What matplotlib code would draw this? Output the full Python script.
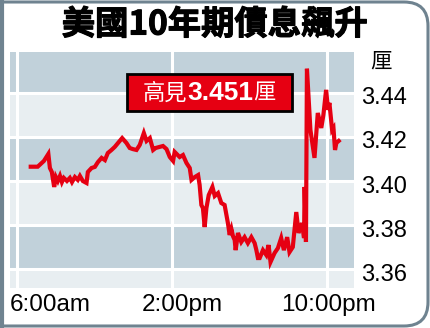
import numpy as np
import matplotlib
matplotlib.use('Agg')
import matplotlib.pyplot as plt
import matplotlib.patheffects as pe
from matplotlib.patches import FancyBboxPatch, Rectangle
from matplotlib.lines import Line2D
from matplotlib.offsetbox import TextArea, HPacker, AnnotationBbox
from matplotlib.transforms import IdentityTransform, ScaledTranslation

# hours of the day (6 = 6:00am) and 10-year yield (%)
hours = [6.71, 7.07, 7.39, 7.62, 7.70, 7.80, 7.92, 8.01, 8.11, 8.22, 8.32, 8.42, 8.58, 8.73,
         8.84, 8.99, 9.14, 9.25, 9.40, 9.59, 9.66, 9.85, 10.02, 10.18, 10.37, 10.54, 10.69,
         10.88, 11.05, 11.22, 11.43, 11.65, 11.82, 11.98, 12.17, 12.34, 12.55, 12.69, 12.86,
         13.03, 13.16, 13.37, 13.54, 13.72, 13.89, 14.06, 14.14, 14.40, 14.57, 14.75, 14.92,
         15.01, 15.18, 15.35, 15.43, 15.52, 15.60, 15.69, 15.78, 15.90, 16.09, 16.21, 16.38,
         16.55, 16.72, 16.89, 16.98, 17.07, 17.15, 17.24, 17.29, 17.41, 17.58, 17.75, 17.92,
         18.10, 18.27, 18.36, 18.44, 18.53, 18.70, 18.87, 18.99, 19.09, 19.30, 19.47, 19.64,
         19.78, 19.95, 20.07, 20.24, 20.42, 20.54, 20.71, 20.82, 20.85, 20.92, 20.97, 21.15,
         21.36, 21.53, 21.71, 21.82, 21.96, 22.06, 22.13, 22.27, 22.34, 22.42, 22.49, 22.61]
yields = [3.4065, 3.4065, 3.4091, 3.4123, 3.4059, 3.4041, 3.3973, 3.4018, 3.4000, 3.4023,
          3.3995, 3.4014, 3.4000, 3.4014, 3.3995, 3.4018, 3.4005, 3.4023, 3.4000, 3.3991,
          3.4041, 3.4059, 3.4064, 3.4086, 3.4105, 3.4095, 3.4127, 3.4141, 3.4155, 3.4173,
          3.4195, 3.4173, 3.4150, 3.4145, 3.4141, 3.4164, 3.4218, 3.4182, 3.4195, 3.4141,
          3.4150, 3.4155, 3.4159, 3.4145, 3.4109, 3.4091, 3.4132, 3.4109, 3.4118, 3.4082,
          3.4059, 3.4005, 3.4018, 3.4027, 3.3982, 3.3891, 3.3877, 3.3791, 3.3877, 3.3936,
          3.3973, 3.3932, 3.3945, 3.3900, 3.3891, 3.3809, 3.3755, 3.3782, 3.3750, 3.3732,
          3.3686, 3.3764, 3.3723, 3.3745, 3.3718, 3.3745, 3.3718, 3.3686, 3.3650, 3.3650,
          3.3686, 3.3664, 3.3709, 3.3632, 3.3673, 3.3695, 3.3741, 3.3686, 3.3745, 3.3677,
          3.3700, 3.3859, 3.3764, 3.3809, 3.3741, 3.3973, 3.3723, 3.4510, 3.4232, 3.4105,
          3.4309, 3.4241, 3.4300, 3.4414, 3.4323, 3.4355, 3.4232, 3.4241, 3.4141, 3.4173,
          3.4182]

x_ticks = [6, 14, 22]
x_labels = ['6:00am', '2:00pm', '10:00pm']
y_ticks = [3.36, 3.38, 3.40, 3.42, 3.44]
y_labels = ['3.36', '3.38', '3.40', '3.42', '3.44']

title = '美國10年期債息飆升'
unit = '厘'
peak_text = ['高見', '3.451', '厘']

cjk = ['Noto Sans CJK TC', 'DejaVu Sans']
dark = '#c1d1da'
light = '#e8eef1'
red = '#e60012'

fig = plt.figure(figsize=(4.3, 3.28), dpi=100)
ax = fig.add_axes([10/430, 40/328, 344/430, 236/328])
ax.set_facecolor(light)
ax.set_xlim(5.64, 23.4)
ax.set_ylim(3.3514, 3.4586)

# dark bands
for lo, hi in [(3.36, 3.38), (3.40, 3.42), (3.44, 3.4586)]:
    ax.axhspan(lo, hi, color=dark, lw=0, zorder=0)

ax.set_axisbelow(True)
ax.grid(True, color='white', lw=2.2)
for s in ax.spines.values():
    s.set_visible(False)

ax.plot(hours, yields, color=red, lw=3, solid_joinstyle='miter', zorder=3)

ax.set_xticks(x_ticks)
ax.set_xticklabels(x_labels, family='Liberation Sans', fontsize=17.5)
ax.set_yticks(y_ticks)
ax.set_yticklabels(y_labels, family='Liberation Sans', fontsize=17)
ax.yaxis.tick_right()
ax.tick_params(length=0, pad=5)
ax.tick_params(axis='x', pad=4)

# nudge x labels like the print layout
shifts = [33, 10, 2]
for lab, dx in zip(ax.get_xticklabels(), shifts):
    lab.set_transform(lab.get_transform() + ScaledTranslation(dx/100, 0, fig.dpi_scale_trans))
for lab in ax.get_yticklabels():
    lab.set_transform(lab.get_transform() + ScaledTranslation(0, -3/100, fig.dpi_scale_trans))

# outer frame with rounded right corners
frame = FancyBboxPatch((-40, 2), 468, 324, boxstyle='round,pad=0,rounding_size=24',
                       transform=IdentityTransform(), fc='none', ec='#6f8390', lw=2.2)
fig.patches.append(frame)
fig.add_artist(Line2D([2, 2], [2, 326], transform=IdentityTransform(), color='#6f8390', lw=3))

fig.text(0.5, 1 - 25/328, title, family=cjk, fontsize=24, fontweight='heavy',
         ha='center', va='center',
         path_effects=[pe.withStroke(linewidth=0.8, foreground='black')])
fig.text(381/430, 1 - 62/328, unit, family=cjk, fontsize=15.5, ha='center', va='center')

# peak label box
ax.add_patch(Rectangle((127/430, 1 - 111/328), 165/430, 37/328, transform=fig.transFigure,
                       fc=red, ec='black', lw=2, zorder=5, clip_on=False))
parts = [TextArea(peak_text[0], textprops=dict(family=cjk, fontsize=16, color='white')),
         TextArea(peak_text[1], textprops=dict(family='Liberation Sans', fontsize=19,
                                               fontweight='bold', color='white')),
         TextArea(peak_text[2], textprops=dict(family=cjk, fontsize=16, color='white'))]
box = HPacker(children=parts, align='baseline', pad=0, sep=0)
ab = AnnotationBbox(box, (209/430, 1 - 93/328), xycoords='figure fraction',
                    frameon=False, box_alignment=(0.5, 0.5), zorder=6)
ax.add_artist(ab)

fig.savefig('out.png', dpi=100)
